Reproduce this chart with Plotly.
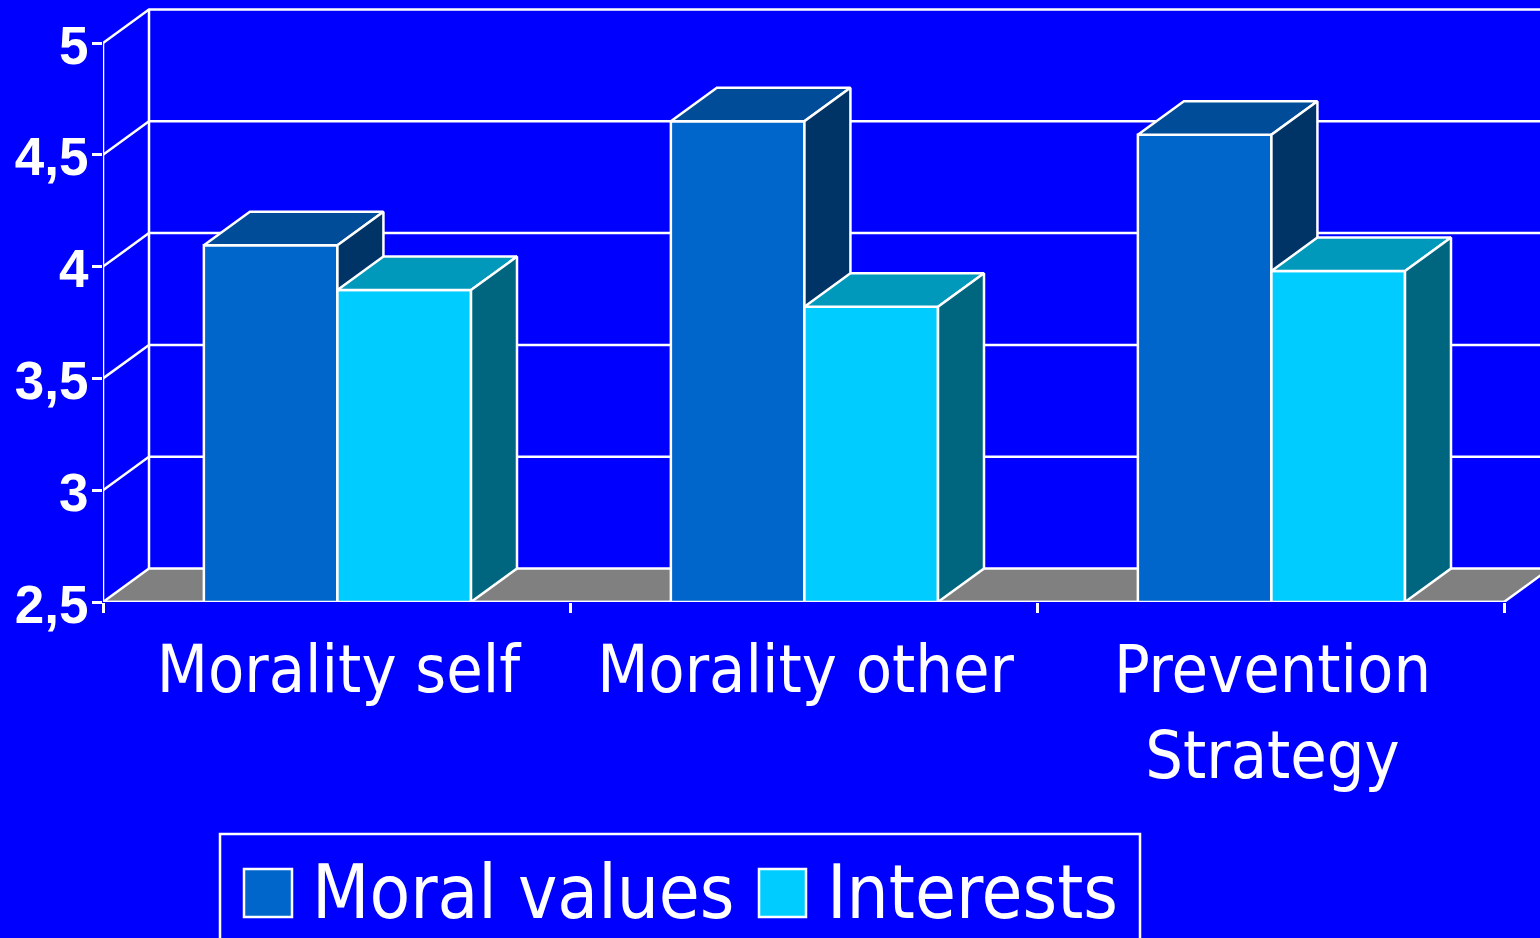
import plotly.graph_objects as go

categories = ["Morality self", "Morality other", "Prevention<br>Strategy"]
moral_values = [4.095, 4.65, 4.59]
interests = [3.895, 3.82, 3.98]
y_ticks = [2.5, 3, 3.5, 4, 4.5, 5]
y_tick_labels = ["2,5", "3", "3,5", "4", "4,5", "5"]
series_names = ["Moral values", "Interests"]

W, H = 1540, 938
L, BOTTOM = 103, 602
PX_X = 467.0          # pixels per category
PX_Y = 223.6          # pixels per value unit
DX, DY = 46 / PX_X, 33.5 / PX_Y   # 3-D depth in data units
BAR_W = 0.286
SPLIT = 0.002
BG = "#0000FF"
WHITE = "#FFFFFF"
LW = 2.5
MORAL = dict(front="#0066CC", top="#004C99", side="#003366")
INTEREST = dict(front="#00CCFF", top="#0099BB", side="#006680")
TEXT_FONT = "DejaVu Sans Condensed"

xmax = (W - L) / PX_X
ymin = 2.5
ymax = ymin + BOTTOM / PX_Y
n = len(categories)
centers = [i + 0.5 for i in range(n)]


def poly(xs, ys, fill=None, xa="x", ya="y"):
    return go.Scatter(
        x=xs, y=ys, mode="lines", xaxis=xa, yaxis=ya,
        line=dict(color=WHITE, width=LW, shape="linear"),
        fill="toself" if fill else None, fillcolor=fill,
        hoverinfo="skip", showlegend=False, cliponaxis=False,
    )


fig = go.Figure()

# Back wall, side wall and floor in the base layer
for v in y_ticks[1:]:
    fig.add_trace(poly([0, DX, n + DX + 1], [v, v + DY, v + DY]))
fig.add_trace(poly([DX, DX], [ymin + DY, max(y_ticks) + DY]))
fig.add_trace(poly([0, n, n + DX, DX, 0],
                   [ymin, ymin, ymin + DY, ymin + DY, ymin], fill="#808080"))
fig.add_trace(poly([0, 0], [ymin, max(y_ticks)]))


def add_series(values, name, colors, offset, xa, ya):
    fig.add_trace(go.Bar(
        x=centers, y=values, name=name, xaxis=xa, yaxis=ya,
        width=BAR_W, offset=offset,
        marker=dict(color=colors["front"], line=dict(color=WHITE, width=LW)),
        showlegend=False, hovertemplate="%{y}<extra>" + name + "</extra>",
    ))
    for c, v in zip(centers, values):
        x0, x1 = c + offset, c + offset + BAR_W
        fig.add_trace(poly([x0, x1, x1 + DX, x0 + DX, x0],
                           [v, v, v + DY, v + DY, v],
                           fill=colors["top"], xa=xa, ya=ya))
        fig.add_trace(poly([x1, x1 + DX, x1 + DX, x1, x1],
                           [ymin, ymin + DY, v + DY, v, ymin],
                           fill=colors["side"], xa=xa, ya=ya))


add_series(moral_values, series_names[0], MORAL, SPLIT - BAR_W, "x2", "y2")
add_series(interests, series_names[1], INTEREST, SPLIT, "x3", "y3")
fig.add_trace(poly([0, n], [ymin, ymin], xa="x3", ya="y3"))

hidden = dict(range=[0, xmax], showgrid=False, zeroline=False, fixedrange=True)
hidden_y = dict(range=[ymin, ymax], showgrid=False, zeroline=False,
                showticklabels=False, ticks="", fixedrange=True)


def px(x):
    return (x - L) / (W - L)


def py(y):
    return (BOTTOM - y) / BOTTOM


shapes = [
    dict(type="rect", xref="paper", yref="paper", x0=px(220), x1=px(1140),
         y0=py(990), y1=py(834), line=dict(color=WHITE, width=LW), layer="above"),
    dict(type="rect", xref="paper", yref="paper", x0=px(244), x1=px(292),
         y0=py(917), y1=py(869), fillcolor=MORAL["front"],
         line=dict(color=WHITE, width=LW), layer="above"),
    dict(type="rect", xref="paper", yref="paper", x0=px(759), x1=px(806),
         y0=py(917), y1=py(869), fillcolor=INTEREST["front"],
         line=dict(color=WHITE, width=LW), layer="above"),
]
annotations = [
    dict(text=series_names[0], x=px(310), y=py(892), xref="paper", yref="paper",
         xanchor="left", yanchor="middle", showarrow=False,
         font=dict(family=TEXT_FONT, size=74, color=WHITE)),
    dict(text=series_names[1], x=px(825), y=py(892), xref="paper", yref="paper",
         xanchor="left", yanchor="middle", showarrow=False,
         font=dict(family=TEXT_FONT, size=74, color=WHITE)),
]

fig.update_layout(
    width=W, height=H, autosize=False,
    paper_bgcolor=BG, plot_bgcolor=BG,
    margin=dict(l=L, r=0, t=0, b=H - BOTTOM, pad=0),
    barmode="overlay", showlegend=False,
    shapes=shapes, annotations=annotations,
    xaxis=dict(**hidden, tickmode="array", tickvals=centers, ticktext=categories,
               ticks="outside", ticklen=10, tickcolor=BG, tickwidth=1,
               ticklabelshift=2,
               tickfont=dict(family=TEXT_FONT, size=66, color=WHITE)),
    yaxis=dict(range=[ymin, ymax], showgrid=False, zeroline=False, fixedrange=True,
               tickmode="array", tickvals=y_ticks, ticktext=y_tick_labels,
               ticks="outside", ticklen=10, tickcolor=WHITE, tickwidth=LW,
               ticklabelstandoff=-7, ticklabelshift=2,
               tickfont=dict(family="Liberation Sans", size=53, color=WHITE, weight="bold")),
    xaxis2=dict(**hidden, overlaying="x", anchor="y2", showticklabels=False),
    yaxis2=dict(**hidden_y, overlaying="y", anchor="x2"),
    xaxis3=dict(**hidden, overlaying="x", anchor="y3", showticklabels=False,
                tickmode="array", tickvals=list(range(n + 1)),
                ticks="outside", ticklen=10, tickcolor=WHITE, tickwidth=LW),
    yaxis3=dict(**hidden_y, overlaying="y", anchor="x3"),
)

fig.write_html("out.html", config=dict(displayModeBar=False),
               post_script="document.body.style.margin='0';document.documentElement.style.overflow='hidden';")
